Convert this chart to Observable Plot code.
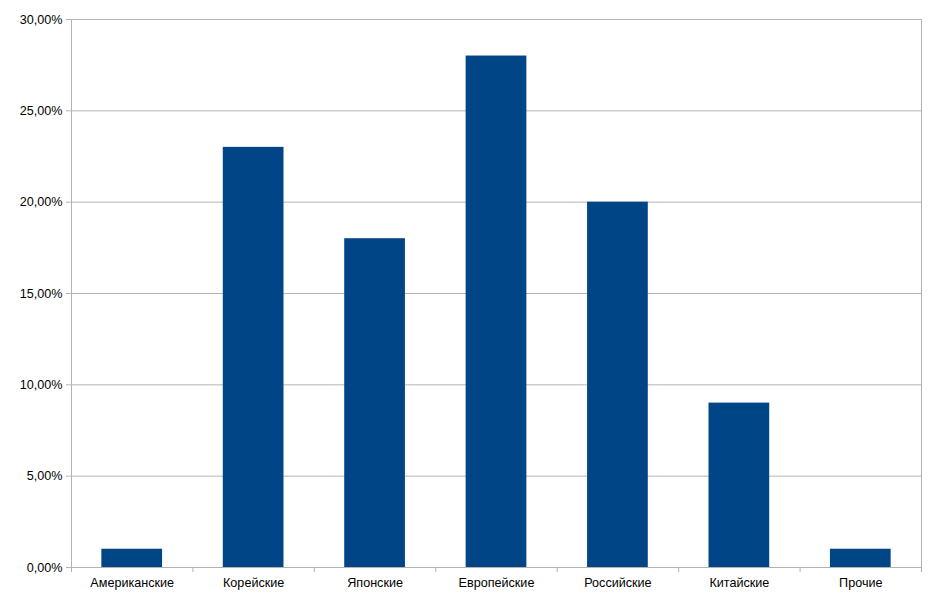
<!DOCTYPE html>
<html>
<head>
<meta charset="utf-8">
<script src="https://cdn.jsdelivr.net/npm/d3@7"></script>
<script src="https://cdn.jsdelivr.net/npm/@observablehq/plot@0.6"></script>
<style>
  html, body { margin: 0; padding: 0; background: #fff; }
  #chart svg { display: block; }
</style>
</head>
<body>
<div id="chart"></div>
<script>
const categories = ["Американские", "Корейские", "Японские", "Европейские", "Российские", "Китайские", "Прочие"];
const shares = [1, 23, 18, 28, 20, 9, 1];
const yTicks = [0, 5, 10, 15, 20, 25, 30];

const data = categories.map((c, i) => ({category: c, index: i, value: shares[i]}));
const fmt = v => d3.format(".2f")(v).replace(".", ",") + "%";
const grid = "#b3b3b3";

const chart = Plot.plot({
  width: 929,
  height: 607,
  marginLeft: 71,
  marginRight: 8,
  marginTop: 19,
  marginBottom: 40,
  style: {fontFamily: "'Liberation Sans', Arial, sans-serif", fontSize: "12.6px", color: "#000", background: "#fff"},
  x: {domain: [0, categories.length], axis: null},
  y: {domain: [0, 30], axis: null},
  marks: [
    Plot.gridY(yTicks, {stroke: grid, strokeOpacity: 1}),
    Plot.rectY(data, {x1: d => d.index + 0.25, x2: d => d.index + 0.75, y: "value", fill: "#004586"}),
    Plot.frame({stroke: grid, strokeOpacity: 1}),
    Plot.axisY({ticks: yTicks, tickFormat: fmt, tickSize: 5, tickPadding: 4, stroke: grid, strokeOpacity: 1, fill: "#000", label: null}),
    Plot.axisX({ticks: d3.range(categories.length + 1), tickFormat: () => "", tickSize: 5, stroke: grid, strokeOpacity: 1, label: null}),
    Plot.axisX({ticks: categories.map((c, i) => i + 0.5), tickFormat: v => categories[Math.floor(v)], tickSize: 0, tickPadding: 11, fill: "#000", label: null})
  ]
});
document.getElementById("chart").appendChild(chart);
</script>
</body>
</html>
